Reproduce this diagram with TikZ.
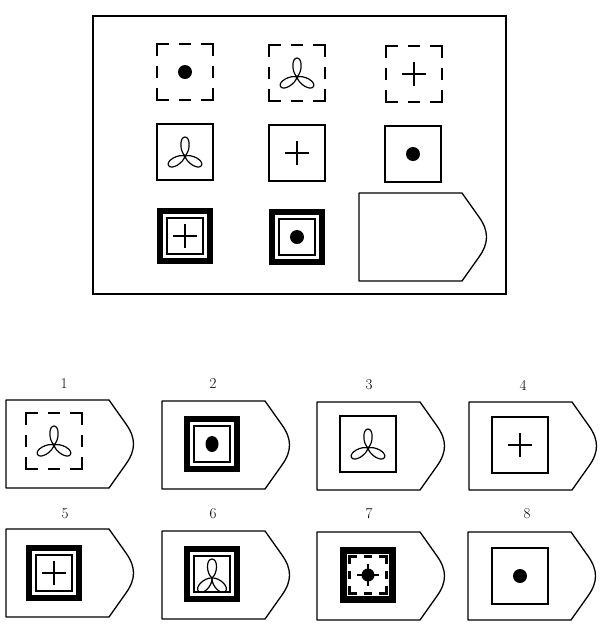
\documentclass[tikz,border=0pt]{standalone}
\begin{document}
\begin{tikzpicture}[x=1pt,y=-1pt,
  sq/.style={line width=2pt},
  dsh/.style={line width=2.4pt},
  sym/.style={line width=2pt},
  outline/.style={line width=1.3pt,line join=round},
  petal/.style={line width=1.2pt},
  lbl/.style={font=\fontsize{15}{17}\selectfont,inner sep=0pt},
  pics/dashsq/.style={code={
    \draw[dsh] (-28,-16) -- (-28,-28) -- (-16,-28)
               (-6,-28) -- (6,-28)
               (16,-28) -- (28,-28) -- (28,-16)
               (28,-6) -- (28,6)
               (28,16) -- (28,28) -- (16,28)
               (6,28) -- (-6,28)
               (-16,28) -- (-28,28) -- (-28,16)
               (-28,6) -- (-28,-6);}},
  pics/solidsq/.style={code={\draw[sq] (-28,-28) rectangle (28,28);}},
  pics/thicksq/.style={code={
    \fill (-28,-28) rectangle (28,28);
    \fill[white] (-22,-22) rectangle (22,22);
    \draw[line width=1.8pt] (-18,-18) rectangle (18,18);}},
  pics/band/.style={code={
    \fill (-28,-28) rectangle (28,28);
    \fill[white] (-21,-21) rectangle (21,21);}},
  pics/dot/.style={code={\fill (0,0) circle[radius=7pt];}},
  pics/plus/.style={code={\draw[sym] (-12,0) -- (12,0) (0,-12) -- (0,12);}},
  pics/trefoil/.style={code={
    \foreach \a in {0,120,240}{
      \draw[petal,rotate=\a] (0,0) .. controls (-5.5,-5) and (-5.5,-19) .. (0,-19)
        .. controls (5.5,-19) and (5.5,-5) .. (0,0);}}},
  pics/bigtrefoil/.style={code={
    \foreach \a in {0,135,225}{
      \draw[petal,rotate=\a] (0,0) .. controls (-6,-5) and (-6,-19) .. (0,-19)
        .. controls (6,-19) and (6,-5) .. (0,0);}}},
  pics/tag/.style={code={
    \draw[outline] (0,0) -- (103,0) -- (120,24) .. controls (130,38) and (130,50) .. (120,64)
      -- (103,88) -- (0,88) -- cycle;}}
]
\fill[white] (0,0) rectangle (609,630);
\useasboundingbox (0,0) rectangle (609,630);

% main matrix
\draw[line width=1.4pt] (93,16) rectangle (506,294);
% row 1
\pic (m11) at (185,72) {dashsq}; \pic at (185,72) {dot};
\pic (m12) at (297,73) {dashsq}; \pic at (297,77) {trefoil};
\pic (m13) at (414,74) {dashsq}; \pic at (414,74) {plus};
% row 2
\pic (m21) at (185,152) {solidsq}; \pic at (185,156) {trefoil};
\pic (m22) at (297,153) {solidsq}; \pic at (297,153) {plus};
\pic (m23) at (413,154) {solidsq}; \pic at (413,154) {dot};
% row 3
\pic (m31) at (185,236) {thicksq}; \pic at (185,236) {plus};
\pic (m32) at (297,237) {thicksq}; \pic at (297,237) {dot};
\pic (m33) at (359,193) {tag};

% options
\pic (o1) at (6,400) {tag};   \pic at (54,441) {dashsq}; \pic at (54,445) {trefoil};
\pic (o2) at (162,401) {tag}; \pic at (212,444) {thicksq};
  \fill (212,444) ellipse[x radius=6.5pt,y radius=8pt];
\pic (o3) at (317,402) {tag}; \pic at (368,444) {solidsq}; \pic at (368,448) {trefoil};
\pic (o4) at (469,402) {tag}; \pic at (520,445) {solidsq}; \pic at (520,445) {plus};

\pic (o5) at (6,529) {tag};   \pic at (54,573) {thicksq}; \pic at (54,573) {plus};
\pic (o6) at (162,531) {tag}; \pic at (212,574) {thicksq}; \pic at (212,578) {bigtrefoil};
\pic (o7) at (317,532) {tag}; \pic at (368,575) {band};
  \pic[scale=0.66] at (368,575) {dashsq};
  \fill (368,575) circle[radius=6.5pt];
  \draw[sym] (357,575) -- (379,575) (368,564) -- (368,586);
\pic (o8) at (468,532) {tag}; \pic at (520,576) {solidsq}; \pic at (520,576) {dot};

% labels
\node[lbl] (l1) at (64,384) {1};
\node[lbl] (l2) at (213,384) {2};
\node[lbl] (l3) at (369,385) {3};
\node[lbl] (l4) at (523,385) {4};
\node[lbl] (l5) at (65,514) {5};
\node[lbl] (l6) at (213,514) {6};
\node[lbl] (l7) at (369,514) {7};
\node[lbl] (l8) at (527,514) {8};
\end{tikzpicture}
\end{document}
